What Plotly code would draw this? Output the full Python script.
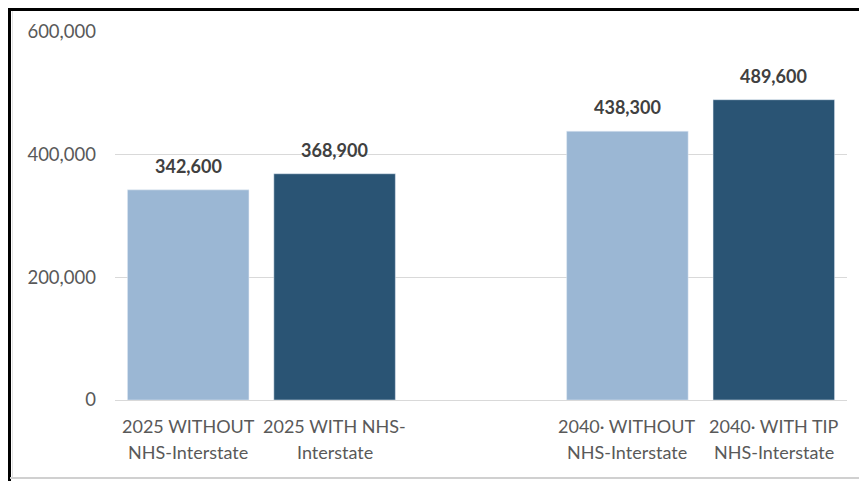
import plotly.graph_objects as go

# bar data (slot 2 is the empty gap between the two year groups)
slots = [0, 1, 3, 4]
values = [342600, 368900, 438300, 489600]
colors = ["#9BB7D4", "#2A5474", "#9BB7D4", "#2A5474"]
label_line1 = ["2025 WITHOUT", "2025 WITH NHS-", "2040· WITHOUT", "2040· WITH TIP"]
label_line2 = ["NHS-Interstate", "Interstate", "NHS-Interstate", "NHS-Interstate"]
y_ticks = [0, 200000, 400000, 600000]

# page body has an 8px margin, so the figure is sized/positioned to compensate
OFF = 8
W, H = 867 - OFF, 481 - OFF
ML, MR, MT, MB = 115 - OFF, 20, 32 - OFF, 81
pw, ph = W - ML - MR, H - MT - MB


def px_x(p):
    # p is a page pixel
    return (p - OFF - ML) / pw


def px_y(p):
    return (H - MB - (p - OFF)) / ph


fig = go.Figure()
fig.add_trace(go.Bar(x=slots, y=values, marker_color=colors, width=0.83,
                     hoverinfo="x+y"))

annotations = []
for s, v in zip(slots, values):
    annotations.append(dict(x=s, y=v, xref="x", yref="y", text=f"<b>{v:,}</b>",
                            showarrow=False, yanchor="bottom", yshift=11,
                            font=dict(size=18, color="#404040")))
for s, a, b in zip(slots, label_line1, label_line2):
    annotations.append(dict(x=s, y=px_y(426), xref="x", yref="paper", text=a,
                            showarrow=False, yanchor="middle",
                            font=dict(size=18, color="#595959")))
    annotations.append(dict(x=s, y=px_y(452), xref="x", yref="paper", text=b,
                            showarrow=False, yanchor="middle",
                            font=dict(size=18, color="#595959")))

shapes = [
    dict(type="line", xref="paper", yref="paper", x0=px_x(9.5), x1=px_x(9.5),
         y0=px_y(8), y1=px_y(485), line=dict(color="black", width=3)),
    dict(type="line", xref="paper", yref="paper", x0=px_x(8), x1=px_x(870),
         y0=px_y(9.5), y1=px_y(9.5), line=dict(color="black", width=3)),
    dict(type="line", xref="paper", yref="paper", x0=px_x(12.5), x1=px_x(12.5),
         y0=px_y(11), y1=px_y(478), line=dict(color="#E3E3E3", width=1)),
    dict(type="line", xref="paper", yref="paper", x0=px_x(10), x1=px_x(870),
         y0=px_y(478), y1=px_y(478), line=dict(color="#D0D0D0", width=2)),
]

fig.update_layout(
    width=W, height=H,
    margin=dict(l=ML, r=MR, t=MT, b=MB),
    paper_bgcolor="white", plot_bgcolor="white",
    font=dict(family="Lato", size=18, color="#595959"),
    showlegend=False,
    annotations=annotations,
    shapes=shapes,
    xaxis=dict(range=[-0.5, 4.5], showticklabels=False, showgrid=False,
               zeroline=False, showline=False, fixedrange=True),
    yaxis=dict(range=[0, 600000], tickvals=y_ticks, tickformat=",",
               showgrid=True, gridcolor="#D9D9D9", gridwidth=1,
               zeroline=True, zerolinecolor="#D9D9D9", zerolinewidth=1,
               showline=False, ticks="", ticklabelstandoff=18,
               tickfont=dict(size=18.5, color="#595959")),
)

fig.write_html("out.html")
